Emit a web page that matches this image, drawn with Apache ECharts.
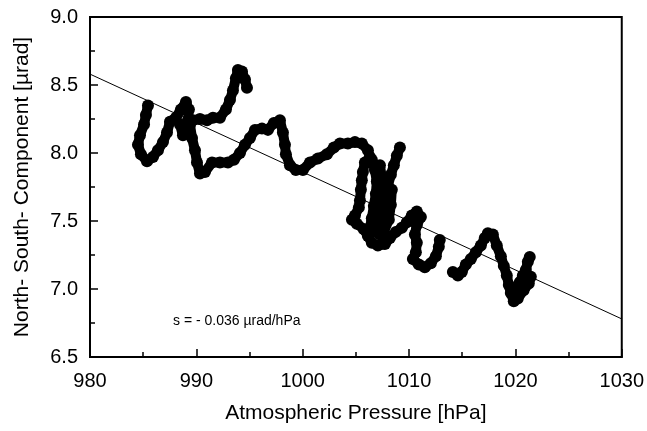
<!DOCTYPE html>
<html>
<head>
<meta charset="utf-8">
<script src="https://cdn.jsdelivr.net/npm/echarts@6/dist/echarts.min.js"></script>
<style>
  html, body { margin: 0; padding: 0; background: #fff; }
  #chart { width: 647px; height: 431px; }
</style>
</head>
<body>
<div id="chart"></div>
<script>
// pressure [hPa] and tilt [µrad], null = gap between traces
const pressure = [
  985.45, 985.26, 985.08, 984.70, 984.51, 984.79, 985.36, 985.92, 986.39, 986.86,
  987.24, 987.52, 988.08, 988.55, 989.02, 989.30, 989.21, 989.68, 990.34, 991.00,
  991.56, 992.22, 992.78, 993.16, 993.44, 993.72, 993.91, 994.29, 994.57, 994.76,
  null,
  988.46, 988.74, 989.12,
  null,
  989.40, 989.59, 989.87, 990.06, 990.34, 990.81, 991.47, 992.22, 992.97, 993.53,
  994.10, 994.57, 995.04, 995.51, 996.17, 996.73, 997.29, 997.86, 998.14, 998.33,
  998.42, 998.80, 999.36, 1000.02, 1000.68, 1001.43, 1002.27, 1002.93, 1003.50, 1004.25,
  1004.91, 1005.56, 1006.13, 1006.32,
  1005.85, 1005.66, 1005.56, 1005.47, 1005.38, 1005.28, 1004.91, 1004.63, 1005.09, 1005.75,
  1006.13, 1006.50, 1007.07, 1007.73, 1008.20, 1008.76, 1009.32, 1009.79, 1010.26, 1010.73,
  1011.11, 1010.73, 1010.55, 1010.73, 1010.64, 1010.36, 1010.92, 1011.48, 1012.05, 1012.52,
  1012.80, 1012.89,
  null,
  1006.50, 1006.79, 1006.97, 1006.88, 1006.69, 1006.50, 1006.32,
  null,
  1009.14, 1008.85, 1008.57, 1008.29, 1008.01, 1007.73, 1007.54, 1007.26, 1007.07, 1006.88,
  null,
  1008.38, 1008.29, 1008.10, 1007.63,
  null,
  1007.26, 1007.44, 1007.35, 1007.63, 1007.54, 1007.26,
  null,
  1014.12, 1014.59, 1014.96, 1015.34, 1015.81, 1016.28, 1016.75, 1017.12, 1017.41, 1017.88,
  1018.25, 1018.63, 1018.91, 1019.19, 1019.38, 1019.57, 1019.85, 1020.13, 1020.41, 1020.70,
  1020.98, 1021.17, 1021.35,
  null,
  1020.22, 1020.77, 1021.26, 1021.45
];
const tilt = [
  8.35, 8.28, 8.21, 8.13, 8.06, 7.99, 7.94, 7.97, 8.02, 8.08,
  8.15, 8.23, 8.26, 8.32, 8.375, 8.32, 8.24, 8.24, 8.25, 8.24,
  8.26, 8.26, 8.32, 8.39, 8.46, 8.55, 8.61, 8.60, 8.54, 8.48,
  null,
  8.21, 8.13, 8.16,
  null,
  8.21, 8.11, 8.02, 7.93, 7.85, 7.86, 7.93, 7.93, 7.93, 7.95,
  8.00, 8.06, 8.11, 8.17, 8.18, 8.17, 8.22, 8.24, 8.15, 8.06,
  7.99, 7.91, 7.875, 7.875, 7.93, 7.96, 7.99, 8.04, 8.07, 8.07,
  8.08, 8.07, 8.02, 7.97,
  7.93, 7.86, 7.80, 7.73, 7.65, 7.60, 7.54, 7.51, 7.48, 7.44,
  7.39, 7.34, 7.32, 7.33, 7.375, 7.42, 7.45, 7.49, 7.54, 7.57,
  7.53, 7.47, 7.40, 7.34, 7.27, 7.22, 7.18, 7.16, 7.19, 7.24,
  7.31, 7.36,
  null,
  7.95, 7.875, 7.79, 7.70, 7.61, 7.52, 7.45,
  null,
  8.04, 7.98, 7.91, 7.84, 7.76, 7.69, 7.625, 7.56, 7.49, 7.42,
  null,
  7.73, 7.62, 7.51, 7.42,
  null,
  7.91, 7.82, 7.73, 7.54, 7.47, 7.40,
  null,
  7.125, 7.10, 7.125, 7.18, 7.22, 7.27, 7.32, 7.375, 7.41, 7.40,
  7.32, 7.24, 7.17, 7.10, 7.03, 6.97, 6.91, 6.97, 7.05, 7.10,
  7.14, 7.20, 7.235,
  null,
  6.93, 6.99, 7.04, 7.09
];
// fitted line end points
const fitPressure = [980, 1030];
const fitTilt = [8.58, 6.78];
const slopeText = 's = - 0.036 µrad/hPa';

const font = "'Liberation Sans', Arial, sans-serif";
const chart = echarts.init(document.getElementById('chart'));

const points = pressure.map((p, i) => p === null ? ['-', '-'] : [p, tilt[i]]);
const fit = fitPressure.map((p, i) => [p, fitTilt[i]]);

chart.setOption({
  animation: false,
  grid: {
    left: 90, right: 25, top: 17, bottom: 74,
    show: true, borderColor: '#000', borderWidth: 2
  },
  xAxis: {
    type: 'value', min: 980, max: 1030, interval: 10,
    name: 'Atmospheric Pressure [hPa]', nameLocation: 'middle', nameGap: 46,
    nameTextStyle: { fontSize: 21, color: '#000', fontFamily: font },
    axisLine: { lineStyle: { color: '#000', width: 2 } },
    axisTick: { inside: true, length: 8, lineStyle: { color: '#000', width: 1.5 } },
    minorTick: { show: true, splitNumber: 2, length: 5, lineStyle: { color: '#000', width: 1.5 } },
    axisLabel: { fontSize: 20, color: '#000', fontFamily: font, margin: 14,
      formatter: v => String(v) },
    splitLine: { show: false }
  },
  yAxis: {
    type: 'value', min: 6.5, max: 9.0, interval: 0.5,
    name: 'North- South- Component [µrad]', nameLocation: 'middle', nameGap: 57,
    nameTextStyle: { fontSize: 21, color: '#000', fontFamily: font },
    axisLine: { lineStyle: { color: '#000', width: 2 } },
    axisTick: { inside: true, length: 8, lineStyle: { color: '#000', width: 1.5 } },
    minorTick: { show: true, splitNumber: 2, length: 5, lineStyle: { color: '#000', width: 1.5 } },
    axisLabel: { fontSize: 20, color: '#000', fontFamily: font, margin: 12,
      formatter: v => v.toFixed(1) },
    splitLine: { show: false }
  },
  series: [
    {
      type: 'line',
      data: fit,
      symbol: 'none',
      lineStyle: { color: '#000', width: 1 },
      z: 1
    },
    {
      type: 'line',
      data: points,
      connectNulls: false,
      symbol: 'circle',
      symbolSize: 12,
      showAllSymbol: true,
      itemStyle: { color: '#000' },
      lineStyle: { color: '#000', width: 10, cap: 'round', join: 'round' },
      z: 2
    }
  ],
  graphic: [{
    type: 'text', left: 173, top: 314,
    style: { text: slopeText, fontSize: 14, fill: '#000', fontFamily: font }
  }]
});
</script>
</body>
</html>
